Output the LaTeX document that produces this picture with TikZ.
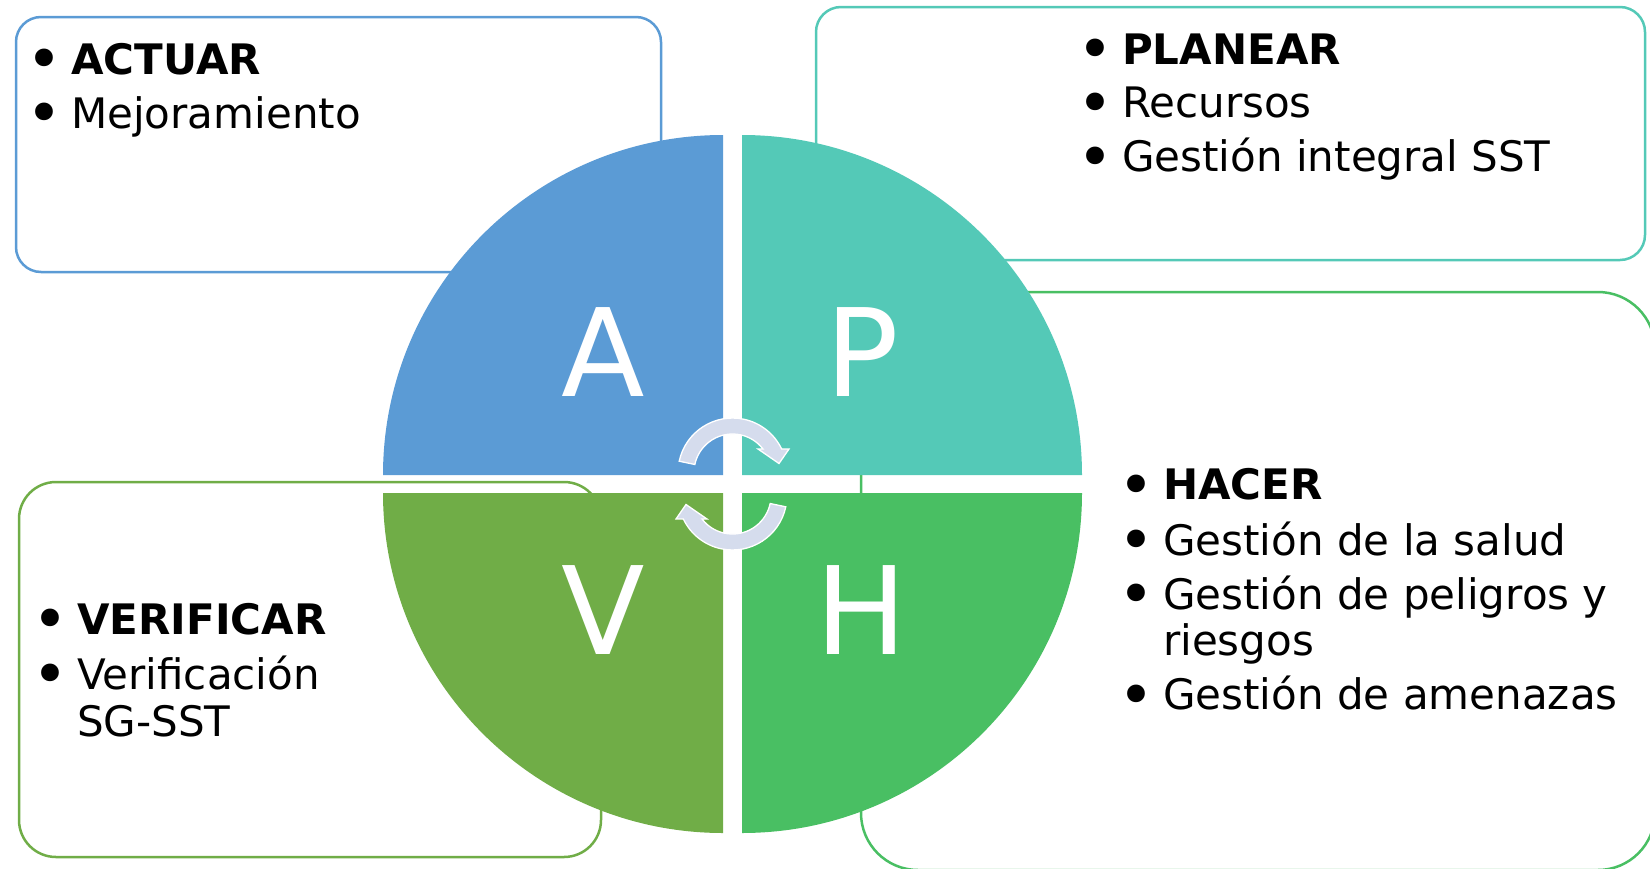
\documentclass[tikz,border=0pt]{standalone}
\usepackage{graphicx}
\usepackage{fontspec}
\setmainfont{DejaVu Sans}
\definecolor{cA}{RGB}{91,155,213}
\definecolor{cP}{RGB}{84,201,183}
\definecolor{cH}{RGB}{73,191,99}
\definecolor{cV}{RGB}{112,173,71}
\definecolor{cArr}{RGB}{213,220,237}
\tikzset{
  box/.style={fill=white, line width=2.5pt, inner sep=0pt, outer sep=0pt, anchor=north west},
  item/.style={anchor=base west, inner sep=0pt, font=\fontsize{42}{50}\selectfont, text=black},
  big/.style={inner sep=0pt, text=white, font=\fontsize{122}{130}\selectfont},
  cyc/.style={fill=cArr, draw=white, line width=1.3pt}
}
\newcommand\bl{\llap{\makebox[54pt][c]{\smash{\raisebox{-6.5pt}{\scalebox{1.45}{\textbullet}}}}}}
\newcommand\cycpath{(679.2,461.2) arc[start angle=192,end angle=334.5,radius=54.5] -- (789,449) -- (779,463.5) -- (758,449) -- (763.0,449) arc[start angle=322.4,end angle=192,radius=38.5] -- cycle}
\begin{document}
\begin{tikzpicture}[x=1pt,y=-1pt]
\useasboundingbox (0,0) rectangle (1650,868);
\clip (0,0) rectangle (1650,868);
% boxes
\node[box, draw=cA, rounded corners=25pt, minimum width=645pt, minimum height=255pt] (actbox) at (16,17) {};
\node[box, draw=cP, rounded corners=25pt, minimum width=829pt, minimum height=253pt] (planbox) at (816,7) {};
\node[box, draw=cH, rounded corners=57pt, minimum width=794pt, minimum height=578pt] (hacbox) at (861,292) {};
\node[box, draw=cV, rounded corners=37pt, minimum width=582pt, minimum height=375pt] (verbox) at (19,482) {};
% quadrants
\fill[cA] (723,475) -- (383,475) arc[start angle=180,end angle=270,radius=340] -- cycle;
\fill[cP] (742,475) -- (742,135) arc[start angle=270,end angle=360,radius=340] -- cycle;
\fill[cH] (742,493) -- (1082,493) arc[start angle=0,end angle=90,radius=340] -- cycle;
\fill[cV] (723,493) -- (723,833) arc[start angle=90,end angle=180,radius=340] -- cycle;
% cycle arrows
\path[cyc] \cycpath;
\begin{scope}[rotate around={180:(732.5,484)}]
\path[cyc] \cycpath;
\end{scope}
% big letters
\node[big] (lA) at (603,352.5) {A};
\node[big] (lP) at (862,352.5) {P};
\node[big] (lV) at (603,610) {V};
\node[big] (lH) at (861,610) {H};
% texts
\node[item] (act1) at (71,74) {\bl\textbf{ACTUAR}};
\node[item] (act2) at (71,128) {\bl Mejoramiento};
\node[item] (pla1) at (1122,64) {\bl\textbf{PLANEAR}};
\node[item] (pla2) at (1122,117.5) {\bl Recursos};
\node[item] (pla3) at (1122,171.5) {\bl Gestión integral SST};
\node[item] (hac1) at (1163,499.5) {\bl\textbf{HACER}};
\node[item] (hac2) at (1163,555) {\bl Gestión de la salud};
\node[item] (hac3) at (1163,609) {\bl Gestión de peligros y};
\node[item] (hac4) at (1163,655) {riesgos};
\node[item] (hac5) at (1163,709.5) {\bl Gestión de amenazas};
\node[item] (ver1) at (77,634) {\bl\textbf{VERIFICAR}};
\node[item] (ver2) at (77,689) {\bl Verificación};
\node[item] (ver3) at (77,736) {SG-SST};
\end{tikzpicture}
\end{document}
